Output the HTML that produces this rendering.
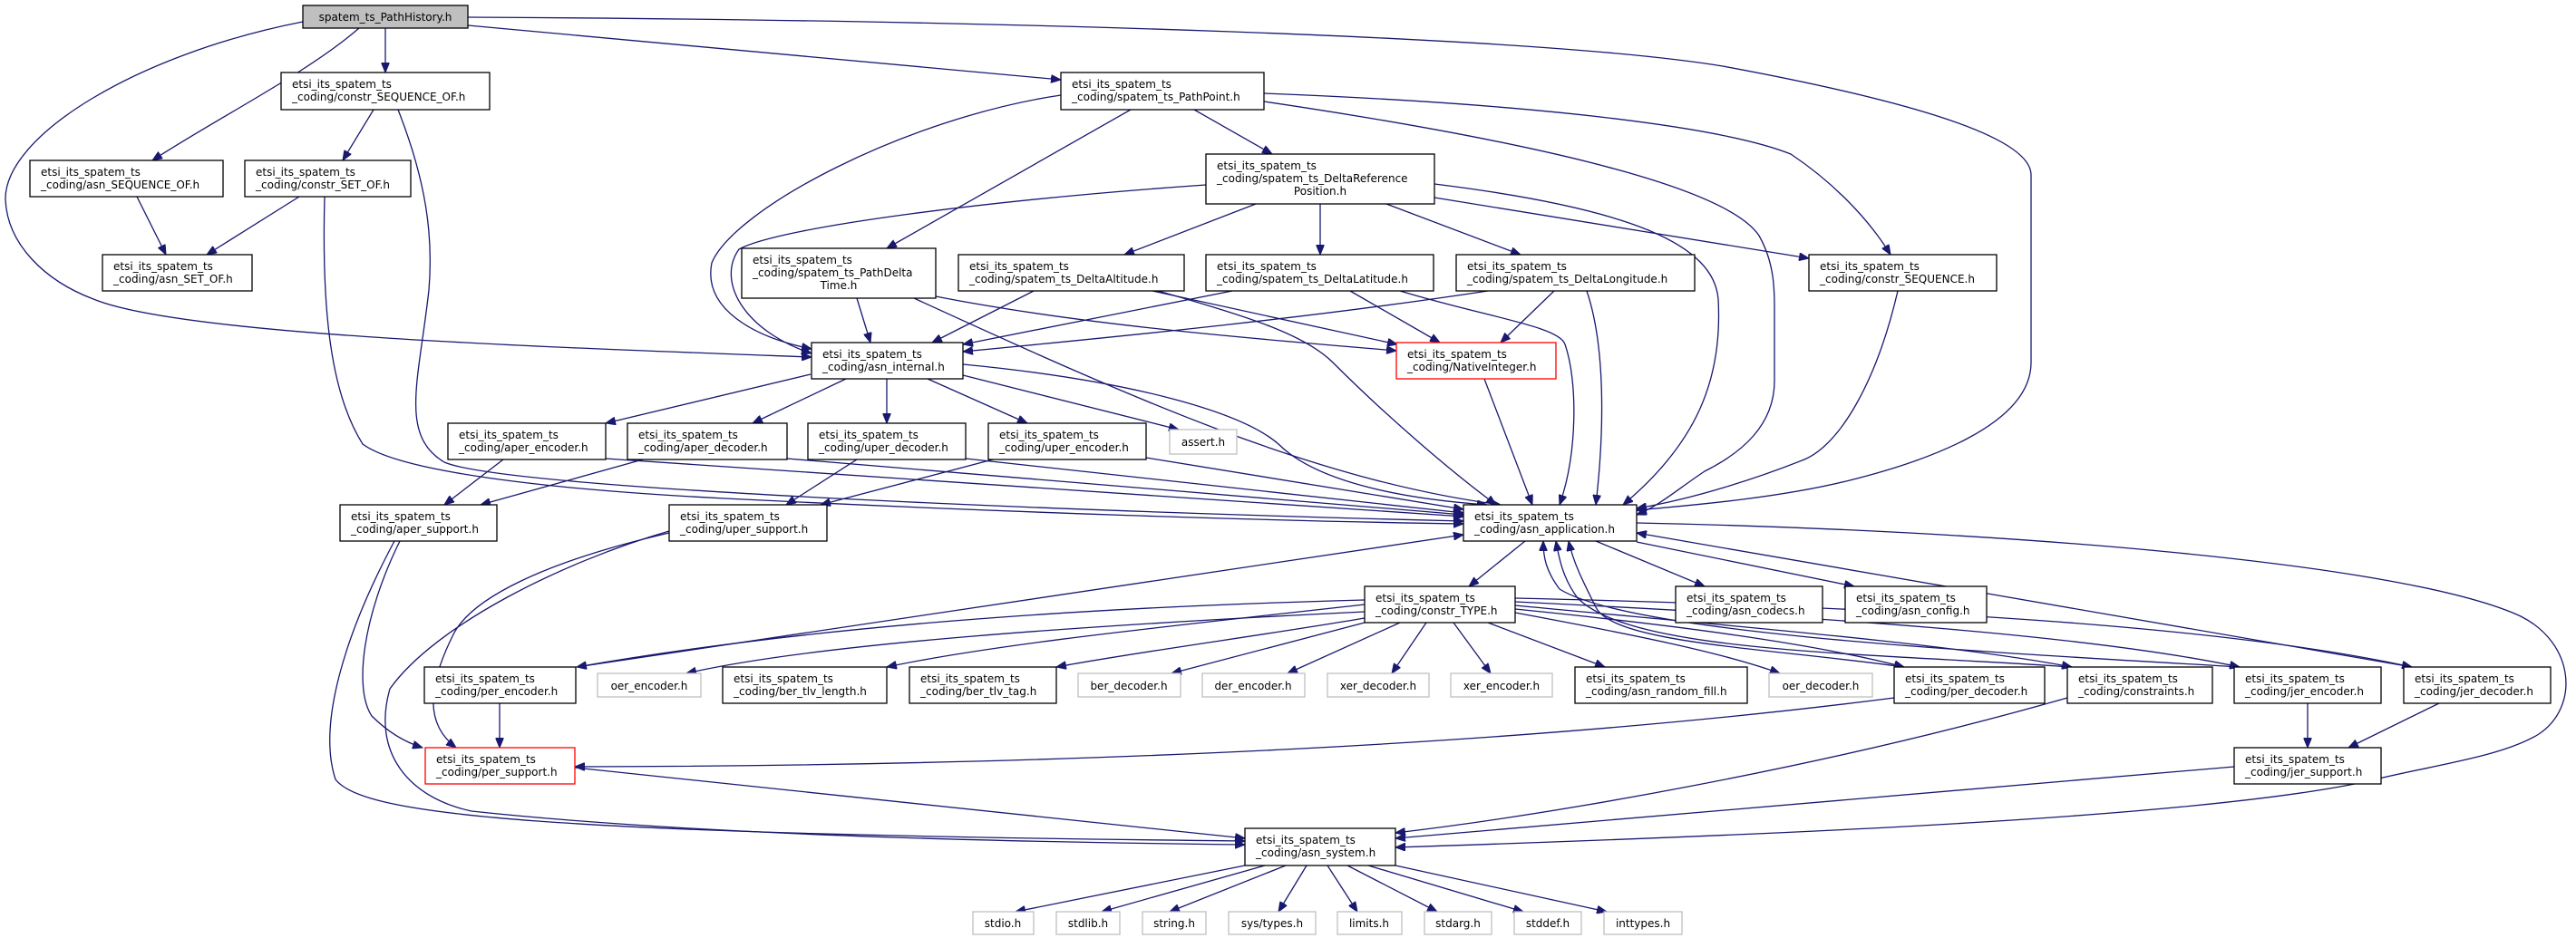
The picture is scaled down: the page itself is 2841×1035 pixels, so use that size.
<!DOCTYPE html>
<html><head><meta charset="utf-8"><style>
html,body{margin:0;padding:0;background:#fff;width:2841px;height:1035px;overflow:hidden}
svg text{font-family:"DejaVu Sans","Liberation Sans",sans-serif;font-size:12px;fill:#000}
.e{fill:none;stroke:#191970;stroke-width:1.3;marker-end:url(#a)}
.n{fill:#fff;stroke:#000;stroke-width:1.3}
.g{fill:#fff;stroke:#bfbfbf;stroke-width:1.3}
.r{fill:#fff;stroke:#ff0000;stroke-width:1.3}
</style></head><body>
<svg width="2841" height="1035" viewBox="0 0 2841 1035" xmlns="http://www.w3.org/2000/svg">
<defs><marker id="a" markerUnits="userSpaceOnUse" markerWidth="12" markerHeight="9" refX="11" refY="4.5" orient="auto"><path d="M0,0 L11,4.5 L0,9 z" fill="#191970" stroke="#191970"/></marker></defs>
<g>
<path class="e" d="M396,31 C340,80 240,130 168,177"/>
<path class="e" d="M425,31 L425,80"/>
<path class="e" d="M516,28 L1170,88"/>
<path class="e" d="M334,24 C150,60 5,150 6,220 C8,270 50,310 103,330 C200,370 600,383 895,394"/>
<path class="e" d="M516,19 C1100,22 1700,40 1900,73 C2100,110 2240,150 2240,193 L2240,400 C2240,470 2120,510 2040,530 C1960,550 1860,558 1805,563"/>
<path class="e" d="M412,121 L378,177"/>
<path class="e" d="M439,121 C470,200 478,260 473,320 C462,420 440,480 490,510 C560,540 1200,565 1614,575"/>
<path class="e" d="M151,217 L183,281"/>
<path class="e" d="M330,217 L228,281"/>
<path class="e" d="M358,217 C355,330 362,430 400,490 C440,520 600,540 800,550 C1100,565 1400,575 1614,578"/>
<path class="e" d="M1170,105 C1000,130 810,230 785,290 C775,340 830,372 895,385"/>
<path class="e" d="M1247,121 L978,274"/>
<path class="e" d="M1317,121 L1403,170"/>
<path class="e" d="M1394,103 C1700,115 1900,140 1975,170 C2020,200 2060,240 2085,281"/>
<path class="e" d="M1394,112 C1650,150 1900,200 1940,260 C1957,290 1957,320 1957,340 L1957,420 C1957,470 1920,500 1880,520 C1850,540 1830,558 1805,568"/>
<path class="e" d="M1330,204 C1100,220 860,250 815,275 C790,310 820,365 895,390"/>
<path class="e" d="M1385,225 L1240,281"/>
<path class="e" d="M1456,225 L1456,281"/>
<path class="e" d="M1529,225 L1677,281"/>
<path class="e" d="M1582,218 L1995,285"/>
<path class="e" d="M1582,203 C1800,230 1890,270 1895,330 C1900,420 1870,490 1790,557"/>
<path class="e" d="M945,329 L960,378"/>
<path class="e" d="M1032,327 C1200,360 1400,375 1540,387"/>
<path class="e" d="M1008,329 C1250,440 1450,530 1655,557"/>
<path class="e" d="M1140,321 L1028,378"/>
<path class="e" d="M1271,321 L1541,380"/>
<path class="e" d="M1277,321 C1380,350 1440,370 1470,400 C1530,460 1600,520 1650,557"/>
<path class="e" d="M1359,321 L1062,380"/>
<path class="e" d="M1489,321 L1588,378"/>
<path class="e" d="M1544,321 C1640,350 1720,360 1726,380 C1740,420 1740,500 1720,557"/>
<path class="e" d="M1641,321 C1450,350 1250,370 1062,388"/>
<path class="e" d="M1714,321 L1655,378"/>
<path class="e" d="M1750,321 C1770,380 1770,470 1760,557"/>
<path class="e" d="M1637,418 L1690,557"/>
<path class="e" d="M2093,321 C2070,420 2030,490 1990,507 C1940,527 1870,550 1805,561"/>
<path class="e" d="M894,413 L668,467"/>
<path class="e" d="M933,418 L830,467"/>
<path class="e" d="M978,418 L978,467"/>
<path class="e" d="M1023,418 L1133,467"/>
<path class="e" d="M1062,414 L1300,474"/>
<path class="e" d="M1062,402 C1250,420 1370,455 1410,490 C1450,530 1540,550 1640,557"/>
<path class="e" d="M555,507 L490,557"/>
<path class="e" d="M668,506 L1614,570"/>
<path class="e" d="M709,507 L530,557"/>
<path class="e" d="M868,506 L1614,568"/>
<path class="e" d="M945,507 L867,557"/>
<path class="e" d="M1065,506 L1614,566"/>
<path class="e" d="M1095,507 L905,557"/>
<path class="e" d="M1264,505 L1614,562"/>
<path class="e" d="M441,597 C400,680 390,760 410,790 C430,810 450,820 466,825"/>
<path class="e" d="M435,597 C380,700 350,800 370,860 C400,900 600,920 1373,928"/>
<path class="e" d="M738,588 C600,620 520,660 500,700 C470,760 470,800 503,825"/>
<path class="e" d="M738,586 C620,620 480,690 430,760 C410,830 450,880 520,895 C800,925 1200,930 1373,932"/>
<path class="e" d="M551,776 L551,825"/>
<path class="e" d="M636,736 L1614,590"/>
<path class="e" d="M634,847 L1373,925"/>
<path class="e" d="M1505,662 C1200,670 900,690 636,736"/>
<path class="e" d="M1505,675 C1200,690 900,710 757,743"/>
<path class="e" d="M1505,667 C1300,690 1100,710 978,736"/>
<path class="e" d="M1505,682 C1400,700 1250,720 1165,736"/>
<path class="e" d="M1505,687 L1292,743"/>
<path class="e" d="M1544,687 L1420,743"/>
<path class="e" d="M1573,687 L1535,743"/>
<path class="e" d="M1603,687 L1644,743"/>
<path class="e" d="M1641,687 L1770,736"/>
<path class="e" d="M1671,676 C1800,700 1900,720 1963,743"/>
<path class="e" d="M1671,672 C1850,690 2000,710 2100,736"/>
<path class="e" d="M1671,668 C1900,690 2150,710 2285,736"/>
<path class="e" d="M1671,664 C2000,680 2300,700 2470,736"/>
<path class="e" d="M1671,660 C2100,670 2450,690 2660,736"/>
<path class="e" d="M1682,597 L1620,647"/>
<path class="e" d="M1760,597 L1880,647"/>
<path class="e" d="M1805,598 L2045,647"/>
<path class="e" d="M1805,577 C2200,585 2650,620 2780,680 C2840,710 2845,780 2800,810 C2760,835 2680,845 2620,860 C2450,900 2000,920 1539,935"/>
<path class="e" d="M2089,770 C1700,820 1200,845 634,846"/>
<path class="e" d="M2100,736 C1950,715 1780,710 1760,670 C1745,640 1735,620 1730,597"/>
<path class="e" d="M2285,736 C2050,720 1800,720 1740,660 C1725,640 1720,620 1716,597"/>
<path class="e" d="M2470,736 C2200,720 1800,700 1720,650 C1705,630 1702,615 1702,597"/>
<path class="e" d="M2660,736 L1805,588"/>
<path class="e" d="M2280,770 C2000,850 1700,900 1539,919"/>
<path class="e" d="M2545,776 L2545,825"/>
<path class="e" d="M2690,776 L2590,825"/>
<path class="e" d="M2464,846 L1539,925"/>
<path class="e" d="M1373,955 L1120,1006"/>
<path class="e" d="M1395,955 L1215,1006"/>
<path class="e" d="M1418,955 L1290,1006"/>
<path class="e" d="M1441,955 L1410,1006"/>
<path class="e" d="M1464,955 L1497,1006"/>
<path class="e" d="M1486,955 L1585,1006"/>
<path class="e" d="M1509,955 L1680,1006"/>
<path class="e" d="M1539,955 L1772,1006"/>
</g>
<g>
<rect x="334" y="6" width="182" height="25" fill="#bfbfbf" stroke="#000" stroke-width="1.3"/><text x="425" y="23" text-anchor="middle">spatem_ts_PathHistory.h</text>
<rect class="n" x="310" y="80" width="230" height="41"/><text x="322" y="97">etsi_its_spatem_ts</text><text x="322" y="111">_coding/constr_SEQUENCE_OF.h</text>
<rect class="n" x="33" y="177" width="213" height="40"/><text x="45" y="194">etsi_its_spatem_ts</text><text x="45" y="208">_coding/asn_SEQUENCE_OF.h</text>
<rect class="n" x="270" y="177" width="183" height="40"/><text x="282" y="194">etsi_its_spatem_ts</text><text x="282" y="208">_coding/constr_SET_OF.h</text>
<rect class="n" x="113" y="281" width="165" height="40"/><text x="125" y="298">etsi_its_spatem_ts</text><text x="125" y="312">_coding/asn_SET_OF.h</text>
<rect class="n" x="1170" y="80" width="224" height="41"/><text x="1182" y="97">etsi_its_spatem_ts</text><text x="1182" y="111">_coding/spatem_ts_PathPoint.h</text>
<rect class="n" x="1330" y="170" width="252" height="55"/><text x="1342" y="187">etsi_its_spatem_ts</text><text x="1342" y="201">_coding/spatem_ts_DeltaReference</text><text x="1456" y="215" text-anchor="middle">Position.h</text>
<rect class="n" x="818" y="274" width="214" height="55"/><text x="830" y="291">etsi_its_spatem_ts</text><text x="830" y="305">_coding/spatem_ts_PathDelta</text><text x="925" y="319" text-anchor="middle">Time.h</text>
<rect class="n" x="1057" y="281" width="249" height="40"/><text x="1069" y="298">etsi_its_spatem_ts</text><text x="1069" y="312">_coding/spatem_ts_DeltaAltitude.h</text>
<rect class="n" x="1330" y="281" width="251" height="40"/><text x="1342" y="298">etsi_its_spatem_ts</text><text x="1342" y="312">_coding/spatem_ts_DeltaLatitude.h</text>
<rect class="n" x="1606" y="281" width="263" height="40"/><text x="1618" y="298">etsi_its_spatem_ts</text><text x="1618" y="312">_coding/spatem_ts_DeltaLongitude.h</text>
<rect class="n" x="1995" y="281" width="207" height="40"/><text x="2007" y="298">etsi_its_spatem_ts</text><text x="2007" y="312">_coding/constr_SEQUENCE.h</text>
<rect class="n" x="895" y="378" width="167" height="40"/><text x="907" y="395">etsi_its_spatem_ts</text><text x="907" y="409">_coding/asn_internal.h</text>
<rect class="r" x="1540" y="378" width="176" height="40"/><text x="1552" y="395">etsi_its_spatem_ts</text><text x="1552" y="409">_coding/NativeInteger.h</text>
<rect class="n" x="494" y="467" width="174" height="40"/><text x="506" y="484">etsi_its_spatem_ts</text><text x="506" y="498">_coding/aper_encoder.h</text>
<rect class="n" x="692" y="467" width="176" height="40"/><text x="704" y="484">etsi_its_spatem_ts</text><text x="704" y="498">_coding/aper_decoder.h</text>
<rect class="n" x="891" y="467" width="174" height="40"/><text x="903" y="484">etsi_its_spatem_ts</text><text x="903" y="498">_coding/uper_decoder.h</text>
<rect class="n" x="1090" y="467" width="174" height="40"/><text x="1102" y="484">etsi_its_spatem_ts</text><text x="1102" y="498">_coding/uper_encoder.h</text>
<rect class="g" x="1290" y="474" width="74" height="27"/><text x="1327" y="492" text-anchor="middle">assert.h</text>
<rect class="n" x="375" y="557" width="173" height="40"/><text x="387" y="574">etsi_its_spatem_ts</text><text x="387" y="588">_coding/aper_support.h</text>
<rect class="n" x="738" y="557" width="174" height="40"/><text x="750" y="574">etsi_its_spatem_ts</text><text x="750" y="588">_coding/uper_support.h</text>
<rect class="n" x="1614" y="557" width="191" height="40"/><text x="1626" y="574">etsi_its_spatem_ts</text><text x="1626" y="588">_coding/asn_application.h</text>
<rect class="n" x="1505" y="647" width="166" height="40"/><text x="1517" y="664">etsi_its_spatem_ts</text><text x="1517" y="678">_coding/constr_TYPE.h</text>
<rect class="n" x="1848" y="647" width="162" height="40"/><text x="1860" y="664">etsi_its_spatem_ts</text><text x="1860" y="678">_coding/asn_codecs.h</text>
<rect class="n" x="2035" y="647" width="156" height="40"/><text x="2047" y="664">etsi_its_spatem_ts</text><text x="2047" y="678">_coding/asn_config.h</text>
<rect class="n" x="468" y="736" width="167" height="40"/><text x="480" y="753">etsi_its_spatem_ts</text><text x="480" y="767">_coding/per_encoder.h</text>
<rect class="g" x="659" y="743" width="114" height="26"/><text x="716" y="761" text-anchor="middle">oer_encoder.h</text>
<rect class="n" x="797" y="736" width="181" height="40"/><text x="809" y="753">etsi_its_spatem_ts</text><text x="809" y="767">_coding/ber_tlv_length.h</text>
<rect class="n" x="1003" y="736" width="162" height="40"/><text x="1015" y="753">etsi_its_spatem_ts</text><text x="1015" y="767">_coding/ber_tlv_tag.h</text>
<rect class="g" x="1189" y="743" width="113" height="26"/><text x="1245" y="761" text-anchor="middle">ber_decoder.h</text>
<rect class="g" x="1326" y="743" width="113" height="26"/><text x="1382" y="761" text-anchor="middle">der_encoder.h</text>
<rect class="g" x="1464" y="743" width="112" height="26"/><text x="1520" y="761" text-anchor="middle">xer_decoder.h</text>
<rect class="g" x="1600" y="743" width="112" height="26"/><text x="1656" y="761" text-anchor="middle">xer_encoder.h</text>
<rect class="n" x="1737" y="736" width="190" height="40"/><text x="1749" y="753">etsi_its_spatem_ts</text><text x="1749" y="767">_coding/asn_random_fill.h</text>
<rect class="g" x="1951" y="743" width="114" height="26"/><text x="2008" y="761" text-anchor="middle">oer_decoder.h</text>
<rect class="n" x="2089" y="736" width="166" height="40"/><text x="2101" y="753">etsi_its_spatem_ts</text><text x="2101" y="767">_coding/per_decoder.h</text>
<rect class="n" x="2280" y="736" width="160" height="40"/><text x="2292" y="753">etsi_its_spatem_ts</text><text x="2292" y="767">_coding/constraints.h</text>
<rect class="n" x="2464" y="736" width="162" height="40"/><text x="2476" y="753">etsi_its_spatem_ts</text><text x="2476" y="767">_coding/jer_encoder.h</text>
<rect class="n" x="2651" y="736" width="162" height="40"/><text x="2663" y="753">etsi_its_spatem_ts</text><text x="2663" y="767">_coding/jer_decoder.h</text>
<rect class="r" x="469" y="825" width="165" height="40"/><text x="481" y="842">etsi_its_spatem_ts</text><text x="481" y="856">_coding/per_support.h</text>
<rect class="n" x="2464" y="825" width="162" height="40"/><text x="2476" y="842">etsi_its_spatem_ts</text><text x="2476" y="856">_coding/jer_support.h</text>
<rect class="n" x="1373" y="914" width="166" height="41"/><text x="1385" y="931">etsi_its_spatem_ts</text><text x="1385" y="945">_coding/asn_system.h</text>
<rect class="g" x="1073" y="1006" width="67" height="25"/><text x="1106" y="1023" text-anchor="middle">stdio.h</text>
<rect class="g" x="1165" y="1006" width="70" height="25"/><text x="1200" y="1023" text-anchor="middle">stdlib.h</text>
<rect class="g" x="1260" y="1006" width="70" height="25"/><text x="1295" y="1023" text-anchor="middle">string.h</text>
<rect class="g" x="1355" y="1006" width="96" height="25"/><text x="1403" y="1023" text-anchor="middle">sys/types.h</text>
<rect class="g" x="1475" y="1006" width="71" height="25"/><text x="1510" y="1023" text-anchor="middle">limits.h</text>
<rect class="g" x="1571" y="1006" width="74" height="25"/><text x="1608" y="1023" text-anchor="middle">stdarg.h</text>
<rect class="g" x="1670" y="1006" width="74" height="25"/><text x="1707" y="1023" text-anchor="middle">stddef.h</text>
<rect class="g" x="1769" y="1006" width="86" height="25"/><text x="1812" y="1023" text-anchor="middle">inttypes.h</text>
</g>
</svg>
</body></html>
